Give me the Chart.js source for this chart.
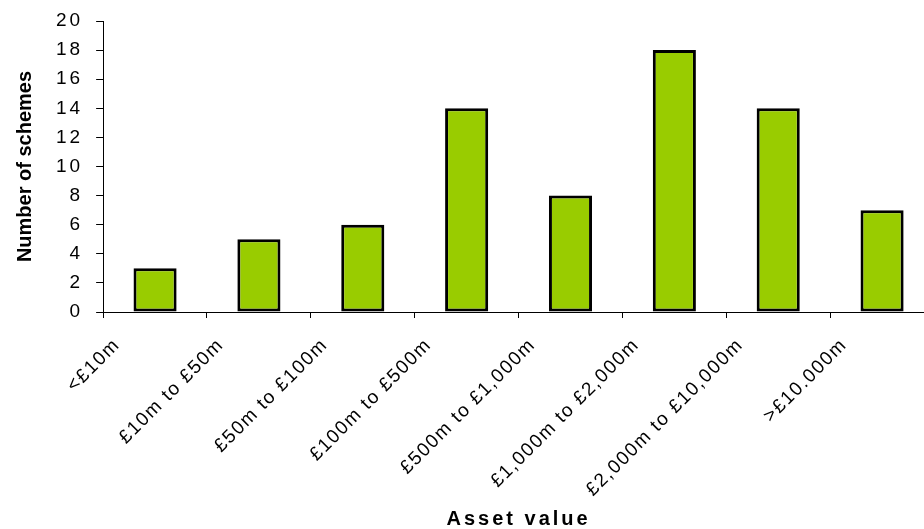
<!DOCTYPE html>
<html>
<head>
<meta charset="utf-8">
<script src="https://cdn.jsdelivr.net/npm/chart.js@4"></script>
<style>
  html, body { margin: 0; padding: 0; background: #fff; overflow: hidden; }
  #wrap { width: 924px; height: 529px; overflow: hidden; }
  #box { width: 940px; height: 529px; position: relative; }
</style>
</head>
<body>
<div id="wrap"><div id="box"><canvas id="chart"></canvas></div></div>
<script>
// data
const categories = ['<£10m', '£10m to £50m', '£50m to £100m', '£100m to £500m',
  '£500m to £1,000m', '£1,000m to £2,000m', '£2,000m to £10,000m', '>£10.000m'];
const schemes = [3, 5, 6, 14, 8, 18, 14, 7];
const yTicks = [0, 2, 4, 6, 8, 10, 12, 14, 16, 18, 20];

// the old chart has spaced-out lettering; set it per scale, for measuring and drawing
const letters = {
  x: { labels: '1.5px', title: '3px' },
  y: { labels: '3px', title: '0px' }
};

function withSpacing(ctx, sp, fn) {
  const prev = ctx.letterSpacing;
  ctx.letterSpacing = sp;
  fn();
  ctx.letterSpacing = prev;
}

const spacing = {
  id: 'spacing',
  afterUpdate(chart) {
    Object.values(chart.scales).forEach(s => {
      if (s._spaced || !letters[s.id]) return;
      const sp = letters[s.id];
      const drawLabels = s.drawLabels.bind(s);
      const drawTitle = s.drawTitle.bind(s);
      s.drawLabels = area => withSpacing(s.ctx, sp.labels, () => drawLabels(area));
      s.drawTitle = area => withSpacing(s.ctx, sp.title, () => drawTitle(area));
      s._spaced = true;
    });
  }
};

function fitSpacing(scale) { scale.ctx.letterSpacing = letters[scale.id].labels; }
function fitReset(scale) { scale.ctx.letterSpacing = '0px'; }

const ctx = document.getElementById('chart').getContext('2d');
new Chart(ctx, {
  type: 'bar',
  data: {
    labels: categories,
    datasets: [{
      data: schemes,
      backgroundColor: '#99CC00',
      borderColor: '#000',
      borderWidth: 3,
      borderSkipped: false,
      barPercentage: 0.415,
      categoryPercentage: 1
    }]
  },
  options: {
    responsive: true,
    maintainAspectRatio: false,
    animation: false,
    layout: { padding: { left: 13, top: 21, right: 6, bottom: 0 } },
    plugins: { legend: { display: false }, tooltip: { enabled: false } },
    scales: {
      x: {
        beforeFit: fitSpacing,
        afterFit: fitReset,
        border: { color: '#000', width: 1 },
        grid: { offset: true, drawOnChartArea: false, drawTicks: true, tickLength: 6, color: '#000' },
        ticks: {
          color: '#000',
          font: { family: 'Liberation Sans, Arial', size: 19 },
          minRotation: 45, maxRotation: 45,
          autoSkip: false,
          padding: 16,
          labelOffset: -38
        },
        title: {
          display: true, text: 'Asset value', color: '#000',
          font: { family: 'Liberation Sans, Arial', size: 20, weight: 'bold', lineHeight: 1 },
          padding: { top: -8, bottom: 0 }
        }
      },
      y: {
        min: 0, max: 20,
        afterBuildTicks(scale) { scale.ticks = yTicks.map(v => ({ value: v })); },
        beforeFit: fitSpacing,
        afterFit(scale) {
          fitReset(scale);
          scale.paddingTop = 0;
          scale.paddingBottom = 0;
        },
        border: { color: '#000', width: 1 },
        grid: { drawOnChartArea: false, drawTicks: true, tickLength: 7, color: '#000' },
        ticks: {
          color: '#000',
          font: { family: 'Liberation Sans, Arial', size: 19 },
          padding: 13
        },
        title: {
          display: true, text: 'Number of schemes', color: '#000',
          font: { family: 'Liberation Sans, Arial', size: 20, weight: 'bold' },
          padding: { top: 0, bottom: 12 }
        }
      }
    }
  },
  plugins: [spacing]
});
</script>
</body>
</html>
